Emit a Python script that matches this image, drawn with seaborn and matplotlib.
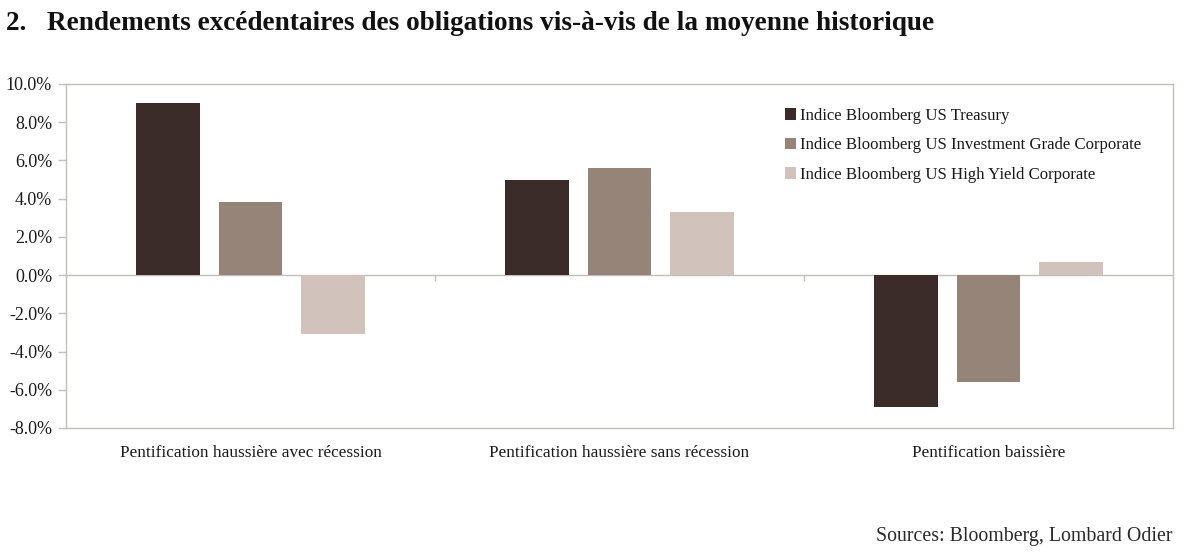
import pandas as pd
import matplotlib.pyplot as plt
import seaborn as sns
from matplotlib.ticker import FuncFormatter

# Data (excess returns vs historical average, %)
scenarios = ['Pentification haussière avec récession',
             'Pentification haussière sans récession',
             'Pentification baissière']
indices = ['Indice Bloomberg US Treasury',
           'Indice Bloomberg US Investment Grade Corporate',
           'Indice Bloomberg US High Yield Corporate']
treasury = [9.0, 5.0, -6.9]
inv_grade = [3.8, 5.6, -5.6]
high_yield = [-3.1, 3.3, 0.7]

colors = ['#3b2c29', '#968478', '#d1c3bc']
grid_col = '#c4beb8'

sns.set_theme(style="white")
plt.rcParams['font.family'] = ['Liberation Serif', 'DejaVu Serif']

rows = []
for name, vals in zip(indices, [treasury, inv_grade, high_yield]):
    for sc, v in zip(scenarios, vals):
        rows.append({'scenario': sc, 'index': name, 'value': v})
df = pd.DataFrame(rows)

fig = plt.figure(figsize=(11.86, 5.57), dpi=100)
ax = fig.add_axes([66 / 1186, 1 - 428 / 557, (1173 - 66) / 1186, (428 - 84) / 557])

sns.barplot(data=df, x='scenario', y='value', hue='index', order=scenarios,
            hue_order=indices, palette=colors, width=0.667, gap=0.22,
            saturation=1, linewidth=0, ax=ax, legend=True)

# zero line with category separator ticks
ax.axhline(0, color=grid_col, lw=1, zorder=0.5)
ax.vlines([0.5, 1.5], -0.3, 0, color=grid_col, lw=1)

ax.set_xlim(-0.5, 2.5)
ax.set_ylim(-8, 10)
ax.set_yticks(range(-8, 11, 2))
ax.yaxis.set_major_formatter(FuncFormatter(lambda v, p: f'{v:.1f}%'))
ax.tick_params(axis='y', length=6, width=1, color=grid_col, labelsize=13,
               pad=4, left=True, direction='out')
ax.tick_params(axis='x', length=0, labelsize=12.4, pad=12)
for lab in ax.get_xticklabels() + ax.get_yticklabels():
    lab.set_color('#1a1a1a')
ax.set_xlabel('')
ax.set_ylabel('')

for s in ax.spines.values():
    s.set_visible(True)
    s.set_color(grid_col)
    s.set_linewidth(1)

leg = ax.legend(loc='upper left', bbox_to_anchor=(0.643, 0.95), frameon=False,
                fontsize=12.1, handlelength=0.7, handleheight=0.7,
                handletextpad=0.2, labelspacing=0.8, borderaxespad=0)
for t in leg.get_texts():
    t.set_color('#1a1a1a')

fig.text(6 / 1186, 1 - 23 / 557,
         '2.   Rendements excédentaires des obligations vis-à-vis de la moyenne historique',
         fontsize=19.6, fontweight='bold', va='center', ha='left', color='#111111')
fig.text(1172 / 1186, 1 - 536 / 557, 'Sources: Bloomberg, Lombard Odier',
         fontsize=14.3, va='center', ha='right', color='#2a2a2a')

fig.savefig('out.png', dpi=100)
plt.close(fig)
